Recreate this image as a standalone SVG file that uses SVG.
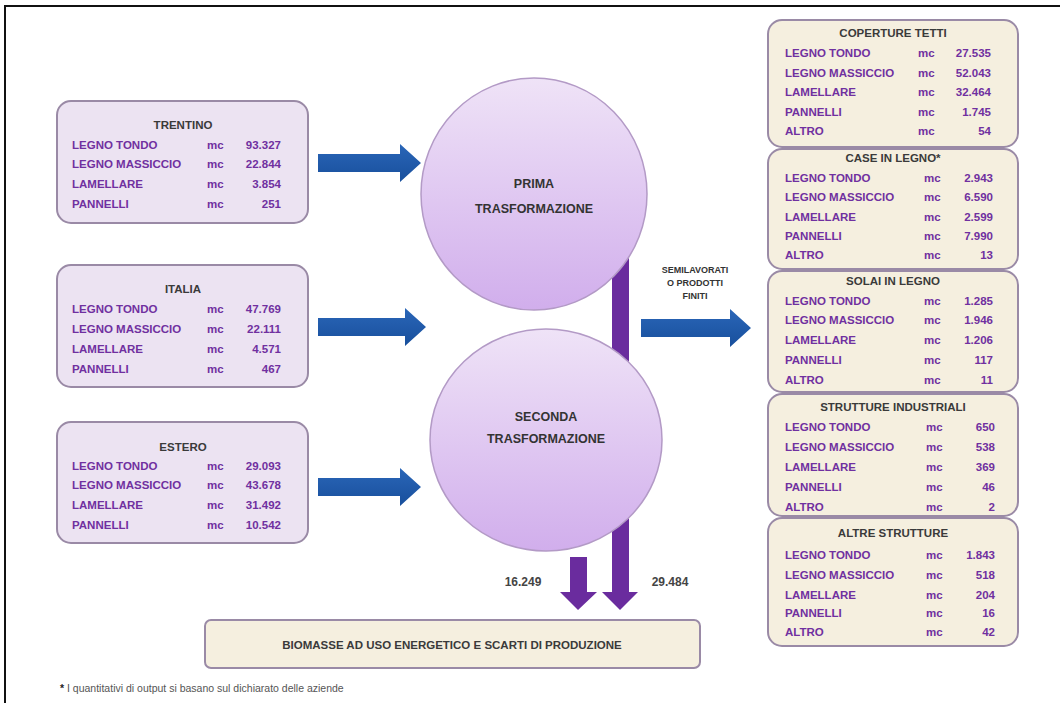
<svg xmlns="http://www.w3.org/2000/svg" width="1060" height="703" viewBox="0 0 1060 703">
<defs>
<style>
.frame{stroke:#111;stroke-width:2;fill:none}
.lbox{fill:#ece3f2;stroke:#9a8aa6;stroke-width:2}
.rbox{fill:#f5efdf;stroke:#9a8aa6;stroke-width:2}
.title{font-family:"Liberation Sans",Arial,sans-serif;font-weight:bold;font-size:11.5px;fill:#3a3a3a;text-anchor:middle}
.item{font-family:"Liberation Sans",Arial,sans-serif;font-weight:bold;font-size:11.5px;fill:#7030a0}
.val{font-family:"Liberation Sans",Arial,sans-serif;font-weight:bold;font-size:11.5px;fill:#7030a0;text-anchor:end}
.ctext{font-family:"Liberation Sans",Arial,sans-serif;font-weight:bold;font-size:12.5px;fill:#333;text-anchor:middle}
.small{font-family:"Liberation Sans",Arial,sans-serif;font-weight:bold;font-size:9px;fill:#333;text-anchor:middle}
.num{font-family:"Liberation Sans",Arial,sans-serif;font-weight:bold;font-size:12px;fill:#444;text-anchor:middle}
.foot{font-family:"Liberation Sans",Arial,sans-serif;font-size:10.5px;fill:#555}
.blue{fill:url(#gBlue)}
.purple{fill:#6a2c9e}
.circ{fill:url(#gCirc);stroke:#b39ac6;stroke-width:1.5}
</style>
<linearGradient id="gCirc" x1="0" y1="0" x2="0" y2="1">
<stop offset="0" stop-color="#efe3f7"/>
<stop offset="1" stop-color="#d1aeec"/>
</linearGradient>
<linearGradient id="gBlue" x1="0" y1="0" x2="0" y2="1">
<stop offset="0" stop-color="#2a66b8"/>
<stop offset="1" stop-color="#184f9c"/>
</linearGradient>
</defs>
<rect x="0" y="0" width="1060" height="703" fill="#ffffff"/>
<path class="frame" d="M5,703 V6 H1060"/>

<g id="connectors">
<path class="blue" d="M318,154 H400 V144 L421,163 L400,182 V172 H318 Z"/>
<path class="blue" d="M318,318 H405 V308 L426,327 L405,346 V336 H318 Z"/>
<path class="blue" d="M318,478 H400 V468 L421,487 L400,506 V496 H318 Z"/>
<path class="blue" d="M641,319 H730 V309 L751,328 L730,347 V337 H641 Z"/>
<path class="purple" d="M612,255 H629 V592 H638 L620,610 L602,592 H612 Z"/>
<path class="purple" d="M570,557 H587 V592 H597 L578,610 L560,592 H570 Z"/>
</g>

<g id="prima">
<ellipse class="circ" cx="534" cy="194" rx="113" ry="116"/>
<text class="ctext" x="534" y="188">PRIMA</text>
<text class="ctext" x="534" y="213">TRASFORMAZIONE</text>
</g>
<g id="seconda">
<ellipse class="circ" cx="546" cy="440" rx="116" ry="111"/>
<text class="ctext" x="546" y="421">SECONDA</text>
<text class="ctext" x="546" y="443">TRASFORMAZIONE</text>
</g>

<g id="label-semilavorati">
<text class="small" x="695" y="273">SEMILAVORATI</text>
<text class="small" x="695" y="286">O PRODOTTI</text>
<text class="small" x="695" y="299">FINITI</text>
</g>
<text class="num" x="523" y="586">16.249</text>
<text class="num" x="670" y="586">29.484</text>

<g id="biomasse">
<rect class="rbox" x="205" y="620" width="495" height="48" rx="6"/>
<text class="title" x="452" y="649">BIOMASSE AD USO ENERGETICO E SCARTI DI PRODUZIONE</text>
</g>

<g id="trentino">
<rect class="lbox" x="57" y="101" width="251" height="122" rx="14"/>
<text class="title" x="183" y="129">TRENTINO</text>
<text class="item" x="72" y="149">LEGNO TONDO</text><text class="item" x="207" y="149">mc</text><text class="val" x="281" y="149">93.327</text>
<text class="item" x="72" y="168">LEGNO MASSICCIO</text><text class="item" x="207" y="168">mc</text><text class="val" x="281" y="168">22.844</text>
<text class="item" x="72" y="188">LAMELLARE</text><text class="item" x="207" y="188">mc</text><text class="val" x="281" y="188">3.854</text>
<text class="item" x="72" y="208">PANNELLI</text><text class="item" x="207" y="208">mc</text><text class="val" x="281" y="208">251</text>
</g>
<g id="italia">
<rect class="lbox" x="57" y="265" width="251" height="122" rx="14"/>
<text class="title" x="183" y="293">ITALIA</text>
<text class="item" x="72" y="313">LEGNO TONDO</text><text class="item" x="207" y="313">mc</text><text class="val" x="281" y="313">47.769</text>
<text class="item" x="72" y="333">LEGNO MASSICCIO</text><text class="item" x="207" y="333">mc</text><text class="val" x="281" y="333">22.111</text>
<text class="item" x="72" y="353">LAMELLARE</text><text class="item" x="207" y="353">mc</text><text class="val" x="281" y="353">4.571</text>
<text class="item" x="72" y="373">PANNELLI</text><text class="item" x="207" y="373">mc</text><text class="val" x="281" y="373">467</text>
</g>
<g id="estero">
<rect class="lbox" x="57" y="422" width="251" height="121" rx="14"/>
<text class="title" x="183" y="451">ESTERO</text>
<text class="item" x="72" y="470">LEGNO TONDO</text><text class="item" x="207" y="470">mc</text><text class="val" x="281" y="470">29.093</text>
<text class="item" x="72" y="489">LEGNO MASSICCIO</text><text class="item" x="207" y="489">mc</text><text class="val" x="281" y="489">43.678</text>
<text class="item" x="72" y="509">LAMELLARE</text><text class="item" x="207" y="509">mc</text><text class="val" x="281" y="509">31.492</text>
<text class="item" x="72" y="529">PANNELLI</text><text class="item" x="207" y="529">mc</text><text class="val" x="281" y="529">10.542</text>
</g>

<g id="coperture">
<rect class="rbox" x="768" y="20" width="250" height="127" rx="14"/>
<text class="title" x="893" y="37">COPERTURE TETTI</text>
<text class="item" x="785" y="57">LEGNO TONDO</text><text class="item" x="918" y="57">mc</text><text class="val" x="991" y="57">27.535</text>
<text class="item" x="785" y="77">LEGNO MASSICCIO</text><text class="item" x="918" y="77">mc</text><text class="val" x="991" y="77">52.043</text>
<text class="item" x="785" y="96">LAMELLARE</text><text class="item" x="918" y="96">mc</text><text class="val" x="991" y="96">32.464</text>
<text class="item" x="785" y="116">PANNELLI</text><text class="item" x="918" y="116">mc</text><text class="val" x="991" y="116">1.745</text>
<text class="item" x="785" y="135">ALTRO</text><text class="item" x="918" y="135">mc</text><text class="val" x="991" y="135">54</text>
</g>
<g id="case">
<rect class="rbox" x="768" y="149" width="250" height="120" rx="14"/>
<text class="title" x="893" y="162">CASE IN LEGNO*</text>
<text class="item" x="785" y="182">LEGNO TONDO</text><text class="item" x="924" y="182">mc</text><text class="val" x="993" y="182">2.943</text>
<text class="item" x="785" y="201">LEGNO MASSICCIO</text><text class="item" x="924" y="201">mc</text><text class="val" x="993" y="201">6.590</text>
<text class="item" x="785" y="221">LAMELLARE</text><text class="item" x="924" y="221">mc</text><text class="val" x="993" y="221">2.599</text>
<text class="item" x="785" y="240">PANNELLI</text><text class="item" x="924" y="240">mc</text><text class="val" x="993" y="240">7.990</text>
<text class="item" x="785" y="259">ALTRO</text><text class="item" x="924" y="259">mc</text><text class="val" x="993" y="259">13</text>
</g>
<g id="solai">
<rect class="rbox" x="768" y="271" width="250" height="121" rx="14"/>
<text class="title" x="893" y="285">SOLAI IN LEGNO</text>
<text class="item" x="785" y="305">LEGNO TONDO</text><text class="item" x="924" y="305">mc</text><text class="val" x="993" y="305">1.285</text>
<text class="item" x="785" y="324">LEGNO MASSICCIO</text><text class="item" x="924" y="324">mc</text><text class="val" x="993" y="324">1.946</text>
<text class="item" x="785" y="344">LAMELLARE</text><text class="item" x="924" y="344">mc</text><text class="val" x="993" y="344">1.206</text>
<text class="item" x="785" y="364">PANNELLI</text><text class="item" x="924" y="364">mc</text><text class="val" x="993" y="364">117</text>
<text class="item" x="785" y="384">ALTRO</text><text class="item" x="924" y="384">mc</text><text class="val" x="993" y="384">11</text>
</g>
<g id="strutture">
<rect class="rbox" x="768" y="394" width="250" height="122" rx="14"/>
<text class="title" x="893" y="411">STRUTTURE INDUSTRIALI</text>
<text class="item" x="785" y="431">LEGNO TONDO</text><text class="item" x="926" y="431">mc</text><text class="val" x="995" y="431">650</text>
<text class="item" x="785" y="451">LEGNO MASSICCIO</text><text class="item" x="926" y="451">mc</text><text class="val" x="995" y="451">538</text>
<text class="item" x="785" y="471">LAMELLARE</text><text class="item" x="926" y="471">mc</text><text class="val" x="995" y="471">369</text>
<text class="item" x="785" y="491">PANNELLI</text><text class="item" x="926" y="491">mc</text><text class="val" x="995" y="491">46</text>
<text class="item" x="785" y="511">ALTRO</text><text class="item" x="926" y="511">mc</text><text class="val" x="995" y="511">2</text>
</g>
<g id="altre">
<rect class="rbox" x="768" y="518" width="250" height="128" rx="14"/>
<text class="title" x="893" y="537">ALTRE STRUTTURE</text>
<text class="item" x="785" y="559">LEGNO TONDO</text><text class="item" x="926" y="559">mc</text><text class="val" x="995" y="559">1.843</text>
<text class="item" x="785" y="579">LEGNO MASSICCIO</text><text class="item" x="926" y="579">mc</text><text class="val" x="995" y="579">518</text>
<text class="item" x="785" y="599">LAMELLARE</text><text class="item" x="926" y="599">mc</text><text class="val" x="995" y="599">204</text>
<text class="item" x="785" y="617">PANNELLI</text><text class="item" x="926" y="617">mc</text><text class="val" x="995" y="617">16</text>
<text class="item" x="785" y="636">ALTRO</text><text class="item" x="926" y="636">mc</text><text class="val" x="995" y="636">42</text>
</g>

<text class="foot" x="60" y="692"><tspan font-weight="bold" fill="#222">*</tspan> I quantitativi di output si basano sul dichiarato delle aziende</text>
</svg>
